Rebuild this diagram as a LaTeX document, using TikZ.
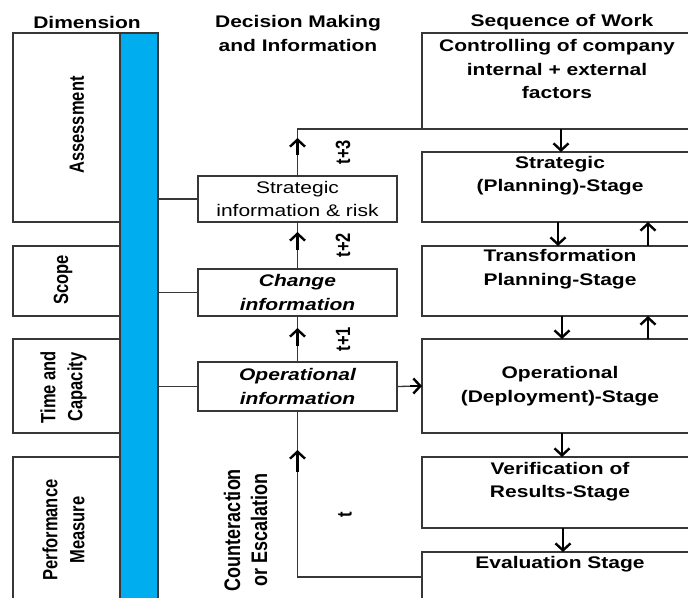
\documentclass[tikz,border=0pt]{standalone}
\usepackage{fontspec}
\setmainfont{Liberation Sans}
\newfontfamily\widefont[FakeStretch=1.25]{Liberation Sans}
\usetikzlibrary{arrows.meta}
\definecolor{barblue}{RGB}{0,174,239}
\definecolor{edge}{RGB}{55,55,55}
\tikzset{
  box/.style={draw=edge, line width=1.3pt, inner sep=0pt, outer sep=0pt, anchor=north west},
  infobox/.style={draw=edge, line width=1.3pt, inner sep=0pt, outer sep=0pt, align=center},
  wtext/.style={font=\widefont\bfseries\fontsize{16.8}{23.5}\selectfont, align=center, inner sep=0pt},
  rtext/.style={font=\bfseries\fontsize{16.5}{21.6}\selectfont, align=center, inner sep=0pt, rotate=90, yscale=1.25},
  thinline/.style={draw=edge, line width=1.3pt},
  arr/.style={draw=black, line width=2.4pt, -{Straight Barb[length=7pt,width=15pt]}},
}
\begin{document}
\begin{tikzpicture}[x=1pt,y=-1pt]
\useasboundingbox (0,0) rectangle (688,597);
% dimension column
\node[box, minimum width=107pt, minimum height=189pt] (assess) at (13,33) {};
\node[box, minimum width=107pt, minimum height=70pt] (scope) at (13,246) {};
\node[box, minimum width=107pt, minimum height=94pt] (timecap) at (13,339) {};
\node[box, minimum width=107pt, minimum height=153pt] (perf) at (13,457) {};
\node[box, fill=barblue, minimum width=38pt, minimum height=577pt] (bar) at (120,33) {};
% sequence of work column
\node[box, minimum width=278pt, minimum height=96pt] (ctrl) at (422,33) {};
\node[box, minimum width=278pt, minimum height=70pt] (sstage) at (422,152) {};
\node[box, minimum width=278pt, minimum height=70pt] (tstage) at (422,246) {};
\node[box, minimum width=278pt, minimum height=94pt] (ostage) at (422,339) {};
\node[box, minimum width=278pt, minimum height=71pt] (vstage) at (422,457) {};
\node[box, minimum width=278pt, minimum height=58pt] (estage) at (422,552) {};
% information boxes
\node[infobox, minimum width=199pt, minimum height=46pt, font=\widefont\fontsize{16.8}{23.5}\selectfont] (sinfo) at (297.5,199) {Strategic\\information \& risk};
\node[infobox, minimum width=199pt, minimum height=47pt, font=\widefont\bfseries\itshape\fontsize{16.8}{23.5}\selectfont] (cinfo) at (297.5,292.5) {Change\\information};
\node[infobox, minimum width=199pt, minimum height=49pt, font=\widefont\bfseries\itshape\fontsize{16.8}{23.5}\selectfont] (oinfo) at (297.5,386.5) {Operational\\information};
% headers
\node[wtext] (hdim) at (87,22) {Dimension};
\node[wtext] (hdec) at (298,33.5) {Decision Making\\and Information};
\node[wtext] (hseq) at (562,22) {Sequence of Work};
% stage texts
\node[wtext] (tctrl) at (557,69) {Controlling of company\\internal + external\\factors};
\node[wtext] (tss) at (560,175.5) {Strategic\\(Planning)-Stage};
\node[wtext] (tts) at (560,269) {Transformation\\Planning-Stage};
\node[wtext] (tos) at (560,386) {Operational\\(Deployment)-Stage};
\node[wtext] (tvs) at (560,481.5) {Verification of\\Results-Stage};
\node[wtext] (tes) at (560,564) {Evaluation Stage};
% dimension labels
\node[rtext] (lass) at (77,125) {Assessment};
\node[rtext] (lscope) at (63,280) {Scope};
\node[rtext] (ltime) at (63.5,387) {Time and\\Capacity};
\node[rtext] (lperf) at (63.5,530) {Performance\\Measure};
\node[rtext, font=\bfseries\fontsize{18}{21.6}\selectfont] (lcounter) at (245.5,530) {Counteraction\\or Escalation};
% time labels
\node[rtext] (t3) at (343,152) {t+3};
\node[rtext] (t2) at (343,245) {t+2};
\node[rtext] (t1) at (343,339) {t+1};
\node[rtext] (t0) at (345,515) {t};
% bar connectors
\draw[thinline] (bar.east |- sinfo.west) -- (sinfo.west);
\draw[thinline] (bar.east |- cinfo.west) -- (cinfo.west);
\draw[thinline] (bar.east |- oinfo.west) -- (oinfo.west);
% info to operational stage
\draw[thinline] (oinfo.east) -- (ostage.west);
\draw[arr] ([xshift=-12pt]ostage.west) -- (ostage.west);
% upward information flow
\draw[thinline] (oinfo.north) -- (cinfo.south);
\draw[arr] ([yshift=-30pt]cinfo.south) -- ([yshift=-12pt]cinfo.south);
\draw[thinline] (cinfo.north) -- (sinfo.south);
\draw[arr] ([yshift=-28pt]sinfo.south) -- ([yshift=-10pt]sinfo.south);
\coordinate (corner) at (sinfo.north |- ctrl.south);
\draw[thinline] (sinfo.north) -- (corner) -- (ctrl.south west);
\draw[arr] ([yshift=-26pt]corner) -- ([yshift=-9pt]corner);
% stage arrows
\draw[arr] (ctrl.south) -- (sstage.north);
\draw[arr] ([xshift=-3pt]sstage.south) -- ([xshift=-3pt]tstage.north);
\draw[arr] ([xshift=87pt]tstage.north) -- ([xshift=87pt]sstage.south);
\draw[arr] ([xshift=1pt]tstage.south) -- ([xshift=1pt]ostage.north);
\draw[arr] ([xshift=87pt]ostage.north) -- ([xshift=87pt]tstage.south);
\draw[arr] ([xshift=1pt]ostage.south) -- ([xshift=1pt]vstage.north);
\draw[arr] ([xshift=2pt]vstage.south) -- ([xshift=2pt]estage.north);
% evaluation feedback
\coordinate (ein) at (422,577);
\coordinate (ecorner) at (oinfo.south |- ein);
\draw[thinline] (ein) -- (ecorner) -- (oinfo.south);
\draw[arr] ([yshift=-61pt]oinfo.south) -- ([yshift=-39pt]oinfo.south);
\end{tikzpicture}
\end{document}
